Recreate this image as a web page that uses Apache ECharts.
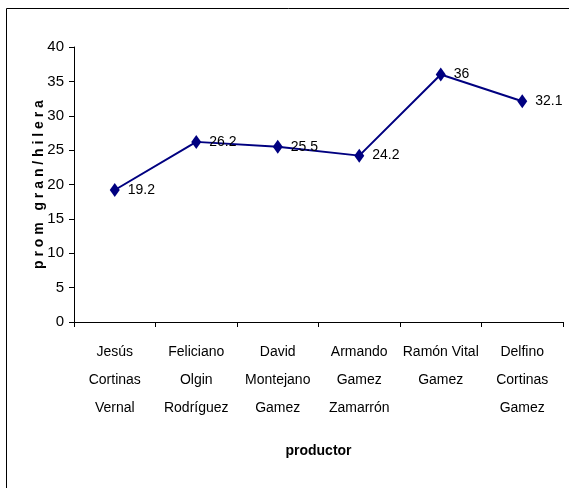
<!DOCTYPE html>
<html lang="es">
<head>
  <meta charset="UTF-8" />
  <title>prom gran/hilera por productor</title>
  <script src="https://cdn.jsdelivr.net/npm/echarts@6/dist/echarts.min.js"></script>
  <style>
    html, body { margin: 0; padding: 0; background: #fff; }
    #grafico { width: 569px; height: 488px; }
  </style>
</head>
<body>
  <div id="grafico"></div>
  <script>
    // datos
    const productores = [
      'Jesús\nCortinas\nVernal',
      'Feliciano\nOlgin\nRodríguez',
      'David\nMontejano\nGamez',
      'Armando\nGamez\nZamarrón',
      'Ramón Vital\nGamez',
      'Delfino\nCortinas\nGamez'
    ];
    const promGranHilera = [19.2, 26.2, 25.5, 24.2, 36, 32.1];
    const ejeY = [0, 5, 10, 15, 20, 25, 30, 35, 40];

    const fuente = '"Liberation Sans Narrow", "Liberation Sans", Arial, sans-serif';

    var myChart = echarts.init(document.getElementById('grafico'));
    var option = {
      animation: false,
      backgroundColor: '#fff',
      graphic: [{
        type: 'rect',
        shape: { x: 6.5, y: 8.5, width: 600, height: 520 },
        style: { fill: 'none', stroke: '#000', lineWidth: 1 },
        z: -1
      }],
      grid: { left: 74, right: 6, top: 47, bottom: 166, containLabel: false },
      xAxis: {
        type: 'category',
        data: productores,
        name: 'productor',
        nameLocation: 'middle',
        nameGap: 122,
        nameMoveOverlap: false,
        nameTextStyle: { fontFamily: fuente, fontSize: 14, fontWeight: 'bold', color: '#000' },
        axisLine: { lineStyle: { color: '#000', width: 1 } },
        axisTick: { show: true, alignWithLabel: false, length: 5, inside: false, lineStyle: { color: '#000' } },
        axisLabel: {
          interval: 0,
          fontFamily: fuente,
          fontSize: 14,
          lineHeight: 28,
          color: '#000',
          margin: 16
        }
      },
      yAxis: {
        type: 'value',
        min: ejeY[0],
        max: ejeY[ejeY.length - 1],
        interval: 5,
        name: 'p r o m   g r a n / h i l e r a',
        nameLocation: 'middle',
        nameGap: 28,
        nameMoveOverlap: false,
        nameTextStyle: { fontFamily: fuente, fontSize: 14, fontWeight: 'bold', color: '#000' },
        axisLine: { show: true, lineStyle: { color: '#000', width: 1 } },
        axisTick: { show: true, length: 5, lineStyle: { color: '#000' } },
        splitLine: { show: false },
        axisLabel: { fontFamily: fuente, fontSize: 15, color: '#000', margin: 10 }
      },
      series: [{
        type: 'line',
        data: promGranHilera,
        symbol: 'diamond',
        symbolSize: [10, 14],
        itemStyle: { color: '#000080' },
        lineStyle: { color: '#000080', width: 2 },
        label: {
          show: true,
          position: 'right',
          distance: 8,
          fontFamily: fuente,
          fontSize: 14,
          color: '#000'
        }
      }]
    };
    myChart.setOption(option);
  </script>
</body>
</html>
